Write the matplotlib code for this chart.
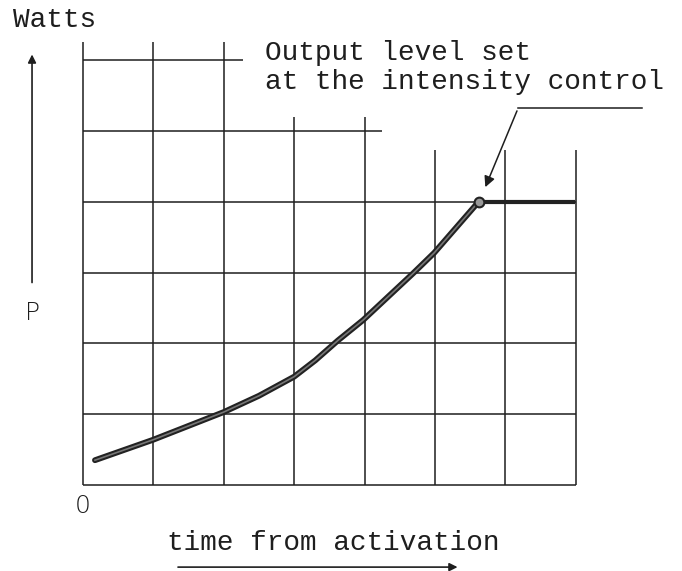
import matplotlib
matplotlib.use("Agg")
import matplotlib.pyplot as plt

# curve (grid units: one cell = one unit)
time_pts = [0.17, 1.0, 2.0, 2.5, 3.0, 3.3, 3.62, 3.98, 4.69, 4.99, 5.62]
power_pts = [0.35, 0.64, 1.03, 1.26, 1.53, 1.76, 2.04, 2.33, 2.99, 3.28, 4.0]
set_level = 4.0
flat_end = 6.96

# grid: how high each vertical line goes, how far each horizontal line goes
vert_x = [0, 1, 2, 3, 4, 5, 6, 7]
vert_top = [6.26, 6.26, 6.26, 5.2, 5.2, 4.73, 4.73, 4.73]
horiz_y = [0, 1, 2, 3, 4, 5, 6]
horiz_end = [7, 7, 7, 7, 7, 4.25, 2.27]

mono = "Liberation Mono"
ink = "#1e1e1e"

fig = plt.figure(figsize=(6.82, 5.71), dpi=100)
ax = fig.add_axes([0, 0, 1, 1])
ax.set_xlim(-1.179, 8.509)
ax.set_ylim(-1.215, 6.85)
ax.axis("off")

for x, top in zip(vert_x, vert_top):
    ax.plot([x, x], [0, top], color=ink, lw=1.1, solid_capstyle="butt")
for y, end in zip(horiz_y, horiz_end):
    ax.plot([0, end], [y, y], color=ink, lw=1.1, solid_capstyle="butt")

# output curve + flat part after reaching set level
ax.plot(time_pts, power_pts, color="#222222", lw=4.2, solid_capstyle="round")
ax.plot(time_pts, power_pts, color="#777777", lw=1.2)
ax.plot([time_pts[-1], flat_end], [set_level, set_level], color="#222222", lw=3.0)
ax.plot([time_pts[-1]], [set_level], marker="o", ms=7, mfc="#999999", mec="#222222", mew=1.5)

# annotation
ax.text(2.585, 6.10, "Output level set", family=mono, fontsize=20, color=ink, va="center", ha="left")
ax.text(2.585, 5.69, "at the intensity control", family=mono, fontsize=20, color=ink, va="center", ha="left")
ax.plot([7.94, 6.18], [5.32, 5.32], color=ink, lw=1.1)
ax.annotate("", xy=(5.70, 4.17), xytext=(6.18, 5.32),
            arrowprops=dict(arrowstyle="-|>", color=ink, lw=1.1, mutation_scale=16))

# axis labels
ax.text(-0.994, 6.57, "Watts", family=mono, fontsize=20, color=ink, va="center", ha="left")
ax.annotate("", xy=(-0.724, 6.12), xytext=(-0.724, 2.82),
            arrowprops=dict(arrowstyle="-|>", color=ink, lw=1.2, mutation_scale=12))
ax.text(-0.724, 2.43, "P", family="DejaVu Sans", fontsize=18, fontweight="light", color=ink, va="center", ha="center")
ax.text(0, -0.30, "0", family="DejaVu Sans", fontsize=18, fontweight="light", color=ink, va="center", ha="center")
ax.text(3.55, -0.82, "time from activation", family=mono, fontsize=20, color=ink, va="center", ha="center")
ax.annotate("", xy=(5.36, -1.16), xytext=(1.31, -1.16),
            arrowprops=dict(arrowstyle="-|>", color=ink, lw=1.2, mutation_scale=12))

fig.savefig("out.png", dpi=100, facecolor="white")
